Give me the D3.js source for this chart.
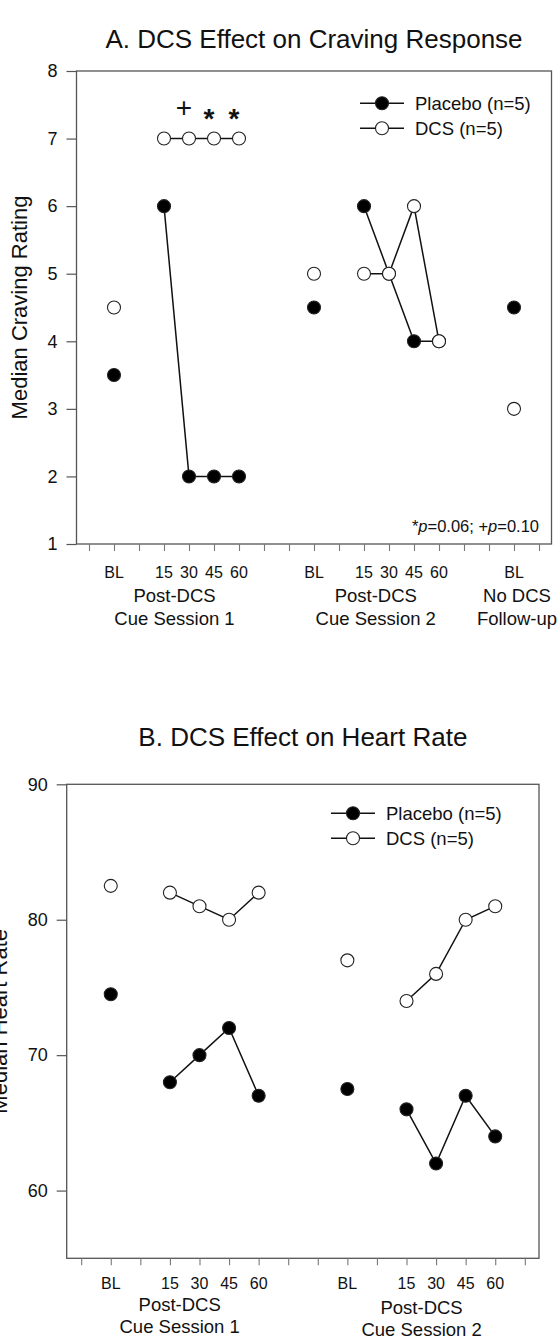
<!DOCTYPE html>
<html>
<head>
<meta charset="utf-8">
<script src="https://cdn.jsdelivr.net/npm/d3@7"></script>
<style>
  html, body { margin: 0; padding: 0; background: #fff; }
  svg { display: block; font-family: "Liberation Sans", Arial, sans-serif; }
</style>
</head>
<body>
<svg id="chart" width="558" height="1341"></svg>
<script>
// ---------- DATA ----------
// Panel A: craving
const slotsA = [1, 3, 4, 5, 6, 9, 11, 12, 13, 14, 17];
const timeLabelsA = ["BL", "15", "30", "45", "60", "BL", "15", "30", "45", "60", "BL"];
const cravingPlacebo = [3.5, 6, 2, 2, 2, 4.5, 6, 5, 4, 4, 4.5];
const cravingDCS = [4.5, 7, 7, 7, 7, 5, 5, 5, 6, 4, 3];
const linkedA = [[1, 2, 3, 4], [6, 7, 8, 9]];
const groupLabelsA = [
  { pos: 3.42, lines: ["Post-DCS", "Cue Session 1"] },
  { pos: 11.47, lines: ["Post-DCS", "Cue Session 2"] },
  { pos: 17.12, lines: ["No DCS", "Follow-up"] }
];
const yTicksA = [1, 2, 3, 4, 5, 6, 7, 8];
// significance marks: index into the data arrays (30, 45, 60 min of session 1)
const sigMarks = [{ idx: 2, sym: "+" }, { idx: 3, sym: "*" }, { idx: 4, sym: "*" }];

// Panel B: heart rate
const slotsB = [1, 3, 4, 5, 6, 9, 11, 12, 13, 14];
const timeLabelsB = ["BL", "15", "30", "45", "60", "BL", "15", "30", "45", "60"];
const hrPlacebo = [74.5, 68, 70, 72, 67, 67.5, 66, 62, 67, 64];
const hrDCS = [82.5, 82, 81, 80, 82, 77, 74, 76, 80, 81];
const linkedB = [[1, 2, 3, 4], [6, 7, 8, 9]];
const groupLabelsB = [
  { pos: 3.33, lines: ["Post-DCS", "Cue Session 1"], dy: 0 },
  { pos: 11.51, lines: ["Post-DCS", "Cue Session 2"], dy: 3 }
];
const yTicksB = [60, 70, 80, 90];

const seriesNames = ["Placebo (n=5)", "DCS (n=5)"];

// ---------- DRAW ----------
const svg = d3.select("#chart");
const R = 6.5;

function drawPanel(cfg) {
  const g = svg.append("g");
  const x = d3.scaleLinear().domain(cfg.xDomain).range([cfg.left, cfg.right]);
  const y = d3.scaleLinear().domain(cfg.yDomain).range([cfg.bottom, cfg.top]);

  // title
  g.append("text").attr("x", (cfg.left + cfg.right) / 2).attr("y", cfg.titleY)
    .attr("text-anchor", "middle").attr("font-size", 26).attr("fill", "#111")
    .text(cfg.title);

  // y axis label
  g.append("text")
    .attr("transform", `translate(${cfg.yLabelX},${(cfg.top + cfg.bottom) / 2}) rotate(-90)`)
    .attr("text-anchor", "middle").attr("font-size", 22).attr("fill", "#111")
    .text(cfg.yLabel);

  // frame
  g.append("rect").attr("x", cfg.left).attr("y", cfg.top)
    .attr("width", cfg.right - cfg.left).attr("height", cfg.bottom - cfg.top)
    .attr("fill", "none").attr("stroke", "#555").attr("stroke-width", 1.3);

  // y axis
  const yAxis = d3.axisLeft(y).tickValues(cfg.yTicks).tickSize(10).tickPadding(9)
    .tickFormat(d3.format("d"));
  const ya = g.append("g").attr("transform", `translate(${cfg.left},0)`).call(yAxis);
  ya.select(".domain").remove();
  ya.selectAll(".tick line").attr("stroke", "#555").attr("stroke-width", 1.2);
  ya.selectAll(".tick text").attr("font-size", 18).attr("fill", "#111")
    .attr("font-family", "Liberation Sans, Arial, sans-serif");

  // x axis ticks
  const xAxis = d3.axisBottom(x).tickValues(d3.range(cfg.nTicks)).tickSize(7).tickFormat("");
  const xa = g.append("g").attr("transform", `translate(0,${cfg.bottom})`).call(xAxis);
  xa.select(".domain").remove();
  xa.selectAll(".tick line").attr("stroke", "#777").attr("stroke-width", 1.1);

  // x time labels
  g.selectAll(".tl").data(cfg.slots).join("text")
    .attr("x", d => x(d)).attr("y", cfg.tickLabelY)
    .attr("text-anchor", "middle").attr("font-size", 16).attr("fill", "#111")
    .text((d, i) => cfg.timeLabels[i]);

  // group labels
  cfg.groups.forEach(gr => {
    gr.lines.forEach((ln, k) => {
      g.append("text").attr("x", x(gr.pos))
        .attr("y", cfg.groupY[k] + (gr.dy || 0))
        .attr("text-anchor", "middle").attr("font-size", 18.5).attr("fill", "#111")
        .text(ln);
    });
  });

  // series
  const series = [
    { vals: cfg.placebo, fill: "#000" },
    { vals: cfg.dcs, fill: "#fff" }
  ];
  const line = d3.line().x(d => x(d[0])).y(d => y(d[1]));
  series.forEach(s => {
    cfg.linked.forEach(idx => {
      g.append("path")
        .attr("d", line(idx.map(i => [cfg.slots[i], s.vals[i]])))
        .attr("fill", "none").attr("stroke", "#111").attr("stroke-width", 1.5);
    });
    g.selectAll(null).data(s.vals).join("circle")
      .attr("cx", (d, i) => x(cfg.slots[i])).attr("cy", d => y(d))
      .attr("r", R).attr("fill", s.fill).attr("stroke", "#222").attr("stroke-width", 1.1);
  });

  // legend
  const lg = g.append("g");
  series.forEach((s, k) => {
    const ly = cfg.legendY + k * 25;
    lg.append("line").attr("x1", cfg.legendX).attr("x2", cfg.legendX + 44)
      .attr("y1", ly).attr("y2", ly).attr("stroke", "#111").attr("stroke-width", 1.5);
    lg.append("circle").attr("cx", cfg.legendX + 22).attr("cy", ly).attr("r", R)
      .attr("fill", s.fill).attr("stroke", "#222").attr("stroke-width", 1.1);
    lg.append("text").attr("x", cfg.legendX + 55).attr("y", ly + 6.5)
      .attr("font-size", 18.5).attr("fill", "#111").text(seriesNames[k]);
  });

  return { g, x, y };
}

// Panel A
const pA = drawPanel({
  title: "A. DCS Effect on Craving Response", titleY: 48,
  yLabel: "Median Craving Rating", yLabelX: 27,
  left: 76.5, right: 551.5, top: 71, bottom: 544,
  xDomain: [-0.5, 18.5], yDomain: [1, 8], yTicks: yTicksA, nTicks: 19,
  slots: slotsA, timeLabels: timeLabelsA, tickLabelY: 578,
  groups: groupLabelsA, groupY: [602, 625],
  placebo: cravingPlacebo, dcs: cravingDCS, linked: linkedA,
  legendX: 360, legendY: 103.3
});

// significance marks
pA.g.selectAll(".sig").data(sigMarks).join("text")
  .attr("x", d => pA.x(slotsA[d.idx]) - 5)
  .attr("y", d => d.sym === "+" ? 117 : 128)
  .attr("text-anchor", "middle").attr("font-size", 28)
  .attr("font-weight", d => d.sym === "*" ? "bold" : "normal")
  .attr("fill", "#111")
  .text(d => d.sym);

// p-value note
const note = pA.g.append("text").attr("x", 539).attr("y", 532)
  .attr("text-anchor", "end").attr("font-size", 16.5).attr("fill", "#111");
note.append("tspan").text("*");
note.append("tspan").attr("font-style", "italic").text("p");
note.append("tspan").text("=0.06; +");
note.append("tspan").attr("font-style", "italic").text("p");
note.append("tspan").text("=0.10");

// Panel B
drawPanel({
  title: "B. DCS Effect on Heart Rate", titleY: 746,
  yLabel: "Median Heart Rate", yLabelX: 7,
  left: 66.7, right: 539, top: 784.3, bottom: 1258.3,
  xDomain: [-0.49, 15.48], yDomain: [55, 90], yTicks: yTicksB, nTicks: 16,
  slots: slotsB, timeLabels: timeLabelsB, tickLabelY: 1289,
  groups: groupLabelsB, groupY: [1311, 1332.5],
  placebo: hrPlacebo, dcs: hrDCS, linked: linkedB,
  legendX: 331, legendY: 813.3
});
</script>
</body>
</html>
